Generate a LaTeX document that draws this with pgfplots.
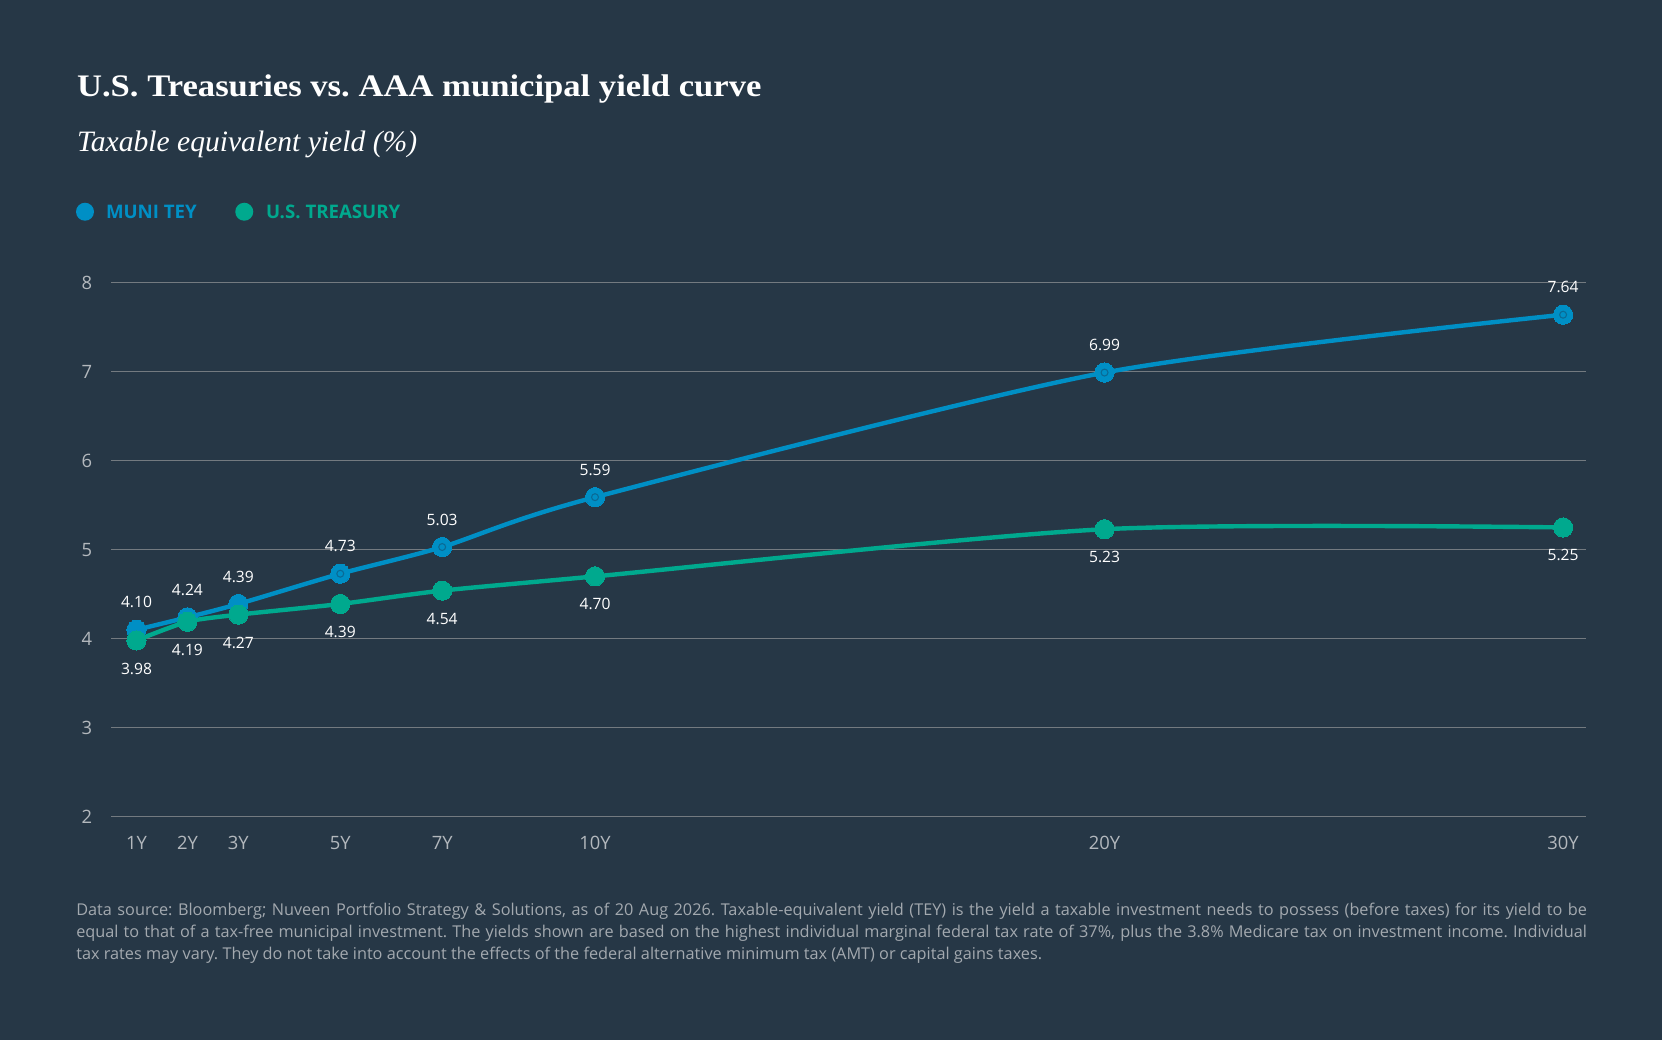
\documentclass[border=0pt]{standalone}
\usepackage{pgfplots}
\pgfplotsset{compat=1.18}
\usepackage{fontspec}
\setmainfont{Open Sans}
\newfontfamily\serif[FakeStretch=1.105]{Liberation Serif}
\newfontfamily\serifit{Liberation Serif}
\definecolor{bg}{HTML}{263746}
\definecolor{muni}{HTML}{008FC5}
\definecolor{munidark}{HTML}{0A6A95}
\definecolor{tsy}{HTML}{00A98E}
\definecolor{gridc}{HTML}{737A80}
\definecolor{tickc}{HTML}{B3B8BD}
\definecolor{foot}{HTML}{A3A9AF}
\frenchspacing
\begin{document}
\begin{tikzpicture}
\fill[bg] (0pt,0pt) rectangle (1246.5pt,-780pt);
\useasboundingbox (0pt,0pt) rectangle (1246.5pt,-780pt);
\node[anchor=base west, inner sep=0, text=white, font=\serif\bfseries\fontsize{23.5}{28}\selectfont] at (57.6pt,-72.5pt) {U.S. Treasuries vs. AAA municipal yield curve};
\node[anchor=base west, inner sep=0, text=white, font=\serifit\itshape\fontsize{22.2}{26}\selectfont] at (57.6pt,-113.8pt) {Taxable equivalent yield (\%)};
% legend
\fill[muni] (63.75pt,-158.8pt) circle (6.75pt);
\node[anchor=west, inner sep=0, text=muni, font=\bfseries\fontsize{14}{17}\selectfont] at (79.3pt,-158.8pt) {MUNI TEY};
\fill[tsy] (183.2pt,-158.8pt) circle (6.75pt);
\node[anchor=west, inner sep=0, text=tsy, font=\bfseries\fontsize{14}{17}\selectfont] at (199.3pt,-158.8pt) {U.S. TREASURY};
\begin{axis}[
  at={(83.25pt,-612.5pt)}, anchor=south west,
  scale only axis, width=1106.25pt, height=400.5pt,
  xmin=0.5, xmax=29.45, ymin=2, ymax=8,
  clip=false,
  axis line style={draw=none},
  tick style={draw=none},
  ymajorgrids, major grid style={gridc, line width=1pt},
  xtick={1,2,3,5,7,10,20,29},
  xticklabels={1Y,2Y,3Y,5Y,7Y,10Y,20Y,30Y},
  ytick={2,3,4,5,6,7,8},
  /pgf/number format/assume math mode=true,
  ticklabel style={font=\fontsize{13.8}{16}\selectfont, text=tickc},
  xticklabel style={anchor=center, yshift=-19.8pt},
  yticklabel style={anchor=center, xshift=-18pt},
  nodes near coords={\pgfmathprintnumber[fixed,fixed zerofill,precision=2]{\pgfplotspointmeta}},
  nodes near coords style={font=\fontsize{11.7}{14}\selectfont, text=white, anchor=center},
]
\addplot[muni, line width=3.3pt, smooth, tension=0.45, mark=*, mark size=7.2pt,
  mark options={solid, fill=muni, draw=muni, line width=0pt},
  every node near coord/.append style={yshift=20.5pt}]
  coordinates {(1,4.10) (2,4.24) (3,4.39) (5,4.73) (7,5.03) (10,5.59) (20,6.99) (29,7.64)};
\addplot[only marks, mark=o, mark size=2.6pt, mark options={draw=munidark, line width=0.8pt}, nodes near coords={}]
  coordinates {(5,4.73) (7,5.03) (10,5.59) (20,6.99) (29,7.64)};
\addplot[tsy, line width=3.3pt, smooth, tension=0.45, mark=*, mark size=7.2pt,
  mark options={solid, fill=tsy, draw=tsy, line width=0pt},
  every node near coord/.append style={yshift=-21pt}]
  coordinates {(1,3.98) (2,4.19) (3,4.27) (5,4.39) (7,4.54) (10,4.70) (20,5.23) (29,5.25)};
\end{axis}
% footnote
\begin{scope}[every node/.style={anchor=base west, inner sep=0, text=foot, font=\fontsize{12.2}{15}\selectfont}]
\node at (57pt,-686.8pt) {\makebox[1133pt][s]{Data source: Bloomberg; Nuveen Portfolio Strategy \& Solutions, as of 20 Aug 2026. Taxable-equivalent yield (TEY) is the yield a taxable investment needs to possess (before taxes) for its yield to be}};
\node at (57pt,-703.3pt) {\makebox[1133pt][s]{equal to that of a tax-free municipal investment. The yields shown are based on the highest individual marginal federal tax rate of 37\%, plus the 3.8\% Medicare tax on investment income. Individual}};
\node at (57pt,-719.5pt) {tax rates may vary. They do not take into account the effects of the federal alternative minimum tax (AMT) or capital gains taxes.};
\end{scope}
\end{tikzpicture}
\end{document}
